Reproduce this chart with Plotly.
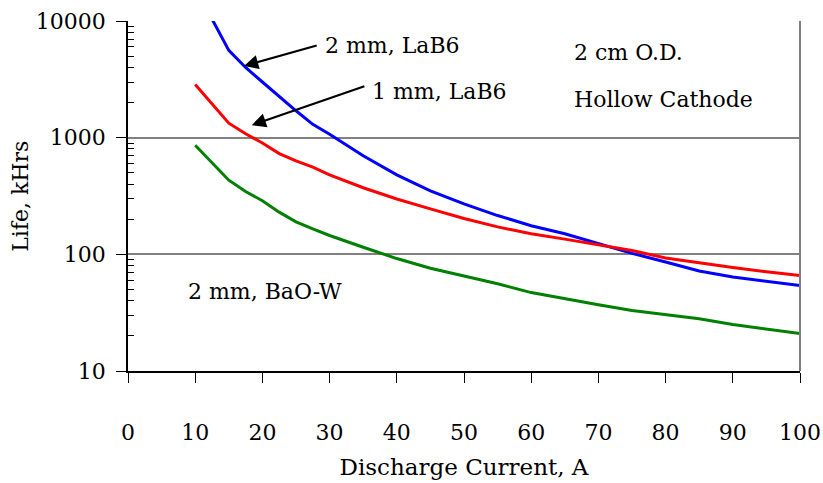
import numpy as np
import plotly.graph_objects as go

# Discharge current (A) and cathode life (kHrs) for each cathode
current = [10, 12.5, 15, 17.5, 20, 22.5, 25, 27.5, 30, 35, 40, 45, 50, 55, 60, 65, 70, 75, 80, 85, 90, 95, 100]
life_lab6_2mm = [18000, 10400, 5600, 4000, 3000, 2250, 1700, 1300, 1070, 700, 480, 350, 271, 215, 176, 150, 124, 102, 86, 72, 64, 59, 54]
life_lab6_1mm = [2850, 1930, 1330, 1080, 900, 730, 632, 560, 480, 372, 298, 245, 203, 172, 150, 135, 121, 108, 93, 84, 77, 71, 66]
life_baow_2mm = [860, 608, 432, 345, 288, 230, 190, 165, 145, 115, 92, 76, 65, 56, 47, 42, 37, 33, 30.5, 28, 25, 23, 21]

x_ticks = [0, 10, 20, 30, 40, 50, 60, 70, 80, 90, 100]
y_ticks = [10, 100, 1000, 10000]
y_minor = [m * 10 ** k for k in (1, 2, 3) for m in range(2, 10)]

FONT = "DejaVu Serif"

fig = go.Figure()
for vals, color in [(life_lab6_2mm, "#0000FF"), (life_lab6_1mm, "#FF0000"), (life_baow_2mm, "#008000")]:
    fig.add_trace(go.Scatter(x=current, y=vals, mode="lines",
                             line=dict(color=color, width=3), showlegend=False))

fig.update_xaxes(
    range=[0, 100], tickvals=x_ticks, ticktext=[str(v) for v in x_ticks],
    ticks="outside", ticklen=10, tickwidth=1.2, tickcolor="black",
    showline=True, linecolor="black", linewidth=1.5,
    showgrid=False, zeroline=False, automargin=False,
    ticklabelstandoff=31,
    tickfont=dict(family=FONT, size=22, color="black"),
    title=dict(text="Discharge Current, A", font=dict(family=FONT, size=23, color="black"), standoff=15),
)
fig.update_yaxes(
    type="log", range=[1, 4], tickvals=y_ticks, ticktext=[str(v) for v in y_ticks],
    ticks="outside", ticklen=10, tickwidth=1.2, tickcolor="black",
    minor=dict(tickvals=y_minor, ticks="inside", ticklen=6, tickcolor="black", tickwidth=1, showgrid=False),
    showline=True, linecolor="black", linewidth=1.5,
    showgrid=True, gridcolor="#808080", gridwidth=2,
    zeroline=False, automargin=False,
    ticklabelstandoff=6,
    tickfont=dict(family=FONT, size=22, color="black"),
)

# y-axis title, placed as rotated text left of the tick labels
fig.add_annotation(x=-0.161, y=0.5, xref="x domain", yref="y domain", text="Life, kHrs",
                   textangle=-90, showarrow=False, xanchor="center", yanchor="middle",
                   font=dict(family=FONT, size=22, color="black"))

# right-hand border of the plot area
fig.add_shape(type="line", xref="x domain", yref="y domain", x0=1, x1=1, y0=0, y1=1,
              line=dict(color="#808080", width=2))

# arrows pointing at the LaB6 curves (log axis: y in log10 units)
for (hx, hy), (tx, ty) in [((17.26, np.log10(4110)), (28.3, np.log10(6220))),
                           ((18.4, np.log10(1280)), (35.4, np.log10(2786)))]:
    fig.add_annotation(x=hx, y=hy, ax=tx, ay=ty, axref="x", ayref="y", xref="x", yref="y",
                       text="", showarrow=True, arrowhead=2, arrowsize=1.3, arrowwidth=2.2,
                       arrowcolor="black")

labels = [
    ("2 mm, LaB6", 29.0, np.log10(6220)),
    ("1 mm, LaB6", 36.0, np.log10(2483)),
    ("2 cm O.D.", 66.0, np.log10(5370)),
    ("Hollow Cathode", 66.0, np.log10(2118)),
    ("2 mm, BaO-W", 8.7, np.log10(47.6)),
]
for txt, lx, ly in labels:
    fig.add_annotation(x=lx, y=ly, xref="x", yref="y", text=txt, showarrow=False,
                       xanchor="left", yanchor="middle",
                       font=dict(family=FONT, size=22, color="black"))

fig.update_layout(
    width=823, height=483,
    margin=dict(l=128, r=23, t=21, b=112),
    plot_bgcolor="white", paper_bgcolor="white",
)

fig.write_html("out.html")
